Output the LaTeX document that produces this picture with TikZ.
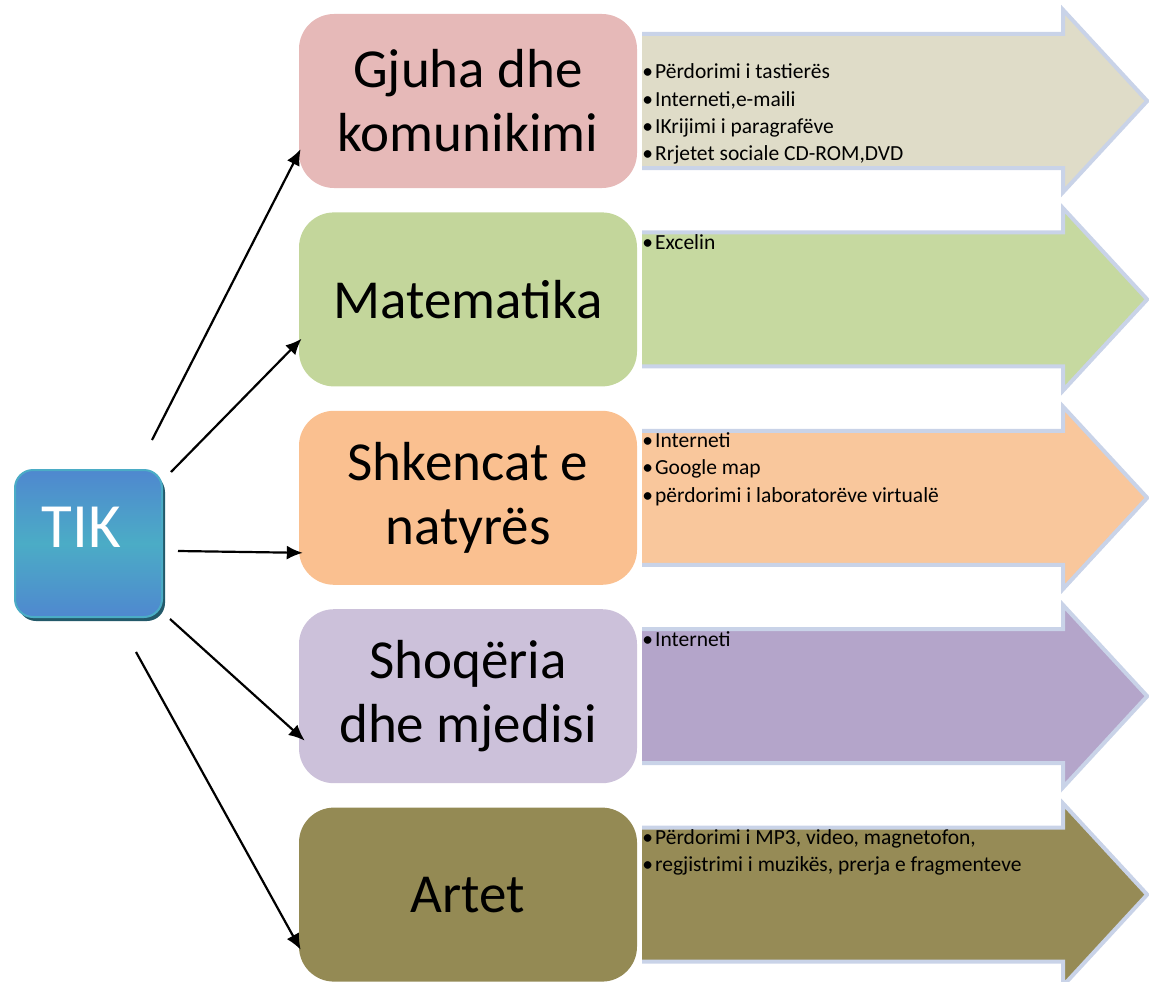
\documentclass[tikz,border=0pt]{standalone}
\usepackage{fontspec}
\setmainfont{Carlito}
\usetikzlibrary{positioning,arrows.meta,shadows}

\newcommand{\bul}{•\hspace{2pt}}

\tikzset{
    bigarrow/.pic={
        \fill[#1] (0,-67) -- (421,-67) -- (421,-91) -- (505,0) -- (421,91) -- (421,67) -- (0,67) -- cycle;
        \draw[rim,line width=4pt] (0,-67) -- (421,-67) -- (421,-91) -- (505,0) -- (421,91) -- (421,67) -- (0,67);
    }
}

\begin{document}
\begin{tikzpicture}[
            x=1pt,y=-1pt,
            node distance=24pt,
            conn/.style={line width=2.2pt,-{Latex[length=16pt,width=14pt]},shorten >=-4pt},
            list/.style={inner sep=0pt,align=left,font=\fontsize{21.5}{27.3}\selectfont}
        ]
            \definecolor{box1}{HTML}{E6B9B8}
            \definecolor{box2}{HTML}{C3D69B}
            \definecolor{box3}{HTML}{FAC090}
            \definecolor{box4}{HTML}{CCC1DA}
            \definecolor{box5}{HTML}{948A54}
            \definecolor{arr1}{HTML}{DFDCC8}
            \definecolor{arr2}{HTML}{C6D9A0}
            \definecolor{arr3}{HTML}{F9C79C}
            \definecolor{arr4}{HTML}{B4A5CA}
            \definecolor{arr5}{HTML}{968B56}
            \definecolor{rim}{HTML}{C9D3E8}
            \definecolor{tikblue}{HTML}{4F88CF}
            \definecolor{tikteal}{HTML}{4BACC6}
            \definecolor{tikshadow}{HTML}{23596A}

            \useasboundingbox (0,0) rectangle (1149,982);

            \begin{scope}[
                every node/.style={rounded corners=35pt,minimum width=338pt,minimum height=174pt,
                                   inner sep=0pt,align=center,font=\fontsize{55}{64}\selectfont}
            ]
                \node (gjuha)   [fill=box1] at (468,101)       {Gjuha dhe\\komunikimi};
                \node (mat)     [below=of gjuha,fill=box2]     {Matematika};
                \node (shk)     [below=of mat,fill=box3]       {Shkencat e\\natyrës};
                \node (shoq)    [below=of shk,fill=box4]       {Shoqëria\\dhe mjedisi};
                \node (artet)   [below=of shoq,fill=box5]      {Artet};
            \end{scope}

            \pic at ([xshift=5pt]gjuha.east) {bigarrow=arr1};
            \pic at ([xshift=5pt]mat.east)   {bigarrow=arr2};
            \pic at ([xshift=5pt]shk.east)   {bigarrow=arr3};
            \pic at ([xshift=5pt]shoq.east)  {bigarrow=arr4};
            \pic at ([xshift=5pt]artet.east) {bigarrow=arr5};

            \node (l1) [list,below right=50pt and 5pt of gjuha.north east]
                {\bul Përdorimi i tastierës\\\bul Interneti,e-maili\\\bul IKrijimi i paragrafëve\\\bul Rrjetet sociale CD-ROM,DVD};
            \node (l2) [list,below right=22pt and 5pt of mat.north east]   {\bul Excelin};
            \node (l3) [list,below right=22pt and 5pt of shk.north east]
                {\bul Interneti\\\bul Google map\\\bul përdorimi i laboratorëve virtualë};
            \node (l4) [list,below right=22pt and 5pt of shoq.north east]  {\bul Interneti};
            \node (l5) [list,below right=22pt and 5pt of artet.north east]
                {\bul Përdorimi i MP3, video, magnetofon,\\\bul regjistrimi i muzikës, prerja e fragmenteve};

            \node (tik) [rounded corners=18pt,minimum size=147pt,draw=tikteal,line width=2pt,
                         top color=tikblue,bottom color=tikblue,middle color=tikteal,
                         drop shadow={shadow xshift=3pt,shadow yshift=-4pt,opacity=1,fill=tikshadow}]
                at (88.5,543.5) {};
            \node (tiklabel) [white,font=\fontsize{63}{70}\selectfont] at ([xshift=-7pt,yshift=16pt]tik.center) {TIK};

            \coordinate (s1) at (152,440);
            \coordinate (s2) at (171,472);
            \coordinate (s3) at (178,551);
            \coordinate (s4) at (170,619);
            \coordinate (s5) at (136,652);
            \draw [conn] (s1) -- (gjuha.197);
            \draw [conn] (s2) -- (mat.194);
            \draw [conn] (s3) -- (shk.198);
            \draw [conn,shorten >=-8pt] (s4) -- (shoq.193);
            \draw [conn] (s5) -- (artet.197);
        \end{tikzpicture}
\end{document}
